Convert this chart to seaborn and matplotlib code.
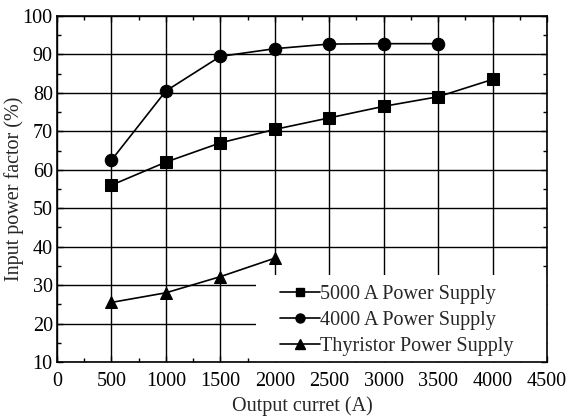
import matplotlib
matplotlib.use("Agg")
import matplotlib.pyplot as plt
import seaborn as sns
import pandas as pd
from matplotlib.ticker import MultipleLocator
from matplotlib.patches import Rectangle

x_5000 = [500, 1000, 1500, 2000, 2500, 3000, 3500, 4000]
y_5000 = [56.0, 62.0, 67.0, 70.5, 73.5, 76.5, 79.0, 83.5]
x_4000 = [500, 1000, 1500, 2000, 2500, 3000, 3500]
y_4000 = [62.5, 80.5, 89.5, 91.5, 92.7, 92.8, 92.8]
x_thy = [500, 1000, 1500, 2000]
y_thy = [25.5, 28.0, 32.2, 37.0]
labels = ["5000 A Power Supply", "4000 A Power Supply", "Thyristor Power Supply"]

sns.set_style("ticks")
plt.rcParams["font.family"] = ["Liberation Serif", "DejaVu Serif"]

fig = plt.figure(figsize=(5.67, 4.2), dpi=100)
ax = fig.add_axes([57/567, 58/420, 490/567, 346/420])

series = [(x_5000, y_5000, "s", 8, 6), (x_4000, y_4000, "o", 9, 6.5), (x_thy, y_thy, "^", 9, 6.5)]
handles = []
for (xs, ys, m, ms, lms), lab in zip(series, labels):
    df = pd.DataFrame({"x": xs, "y": ys})
    sns.lineplot(data=df, x="x", y="y", ax=ax, color="black", linewidth=1.2,
                 marker=m, markersize=ms, markeredgecolor="black", markerfacecolor="black",
                 zorder=3)
    h, = ax.plot([], [], color="black", linewidth=1.2, marker=m, markersize=lms)
    handles.append(h)

ax.set_xlim(0, 4500)
ax.set_ylim(10, 100)
ax.xaxis.set_major_locator(MultipleLocator(500))
ax.xaxis.set_minor_locator(MultipleLocator(250))
ax.yaxis.set_major_locator(MultipleLocator(10))
ax.yaxis.set_minor_locator(MultipleLocator(5))
ax.grid(True, which="major", color="black", linewidth=1.0)
ax.tick_params(which="both", direction="in", top=True, right=True, labelsize=14.5, colors="black")
ax.tick_params(which="major", length=4, width=1)
ax.tick_params(which="minor", length=3, width=1)
ax.tick_params(axis="x", pad=7)
ax.tick_params(axis="y", pad=3)
for s in ax.spines.values():
    s.set_linewidth(1.2)
    s.set_color("black")
    s.set_zorder(6)

ax.set_xlabel("Output curret (A)", fontsize=14.5, labelpad=4)
ax.set_ylabel("Input power factor (%)", fontsize=14.5, labelpad=-1)

# white legend background area covering the grid
ax.add_patch(Rectangle((0.406, 0.0), 0.594, 0.251, transform=ax.transAxes,
                       facecolor="white", edgecolor="none", zorder=2.5))

leg = ax.legend(handles, labels, loc="upper left", bbox_to_anchor=(0.455, 0.222),
                borderaxespad=0.0, frameon=False, fontsize=14.5,
                handlelength=2.0, handletextpad=0.0, labelspacing=0.33,
                borderpad=0.0)
leg.set_zorder(5)

fig.savefig("out.png", dpi=100)
